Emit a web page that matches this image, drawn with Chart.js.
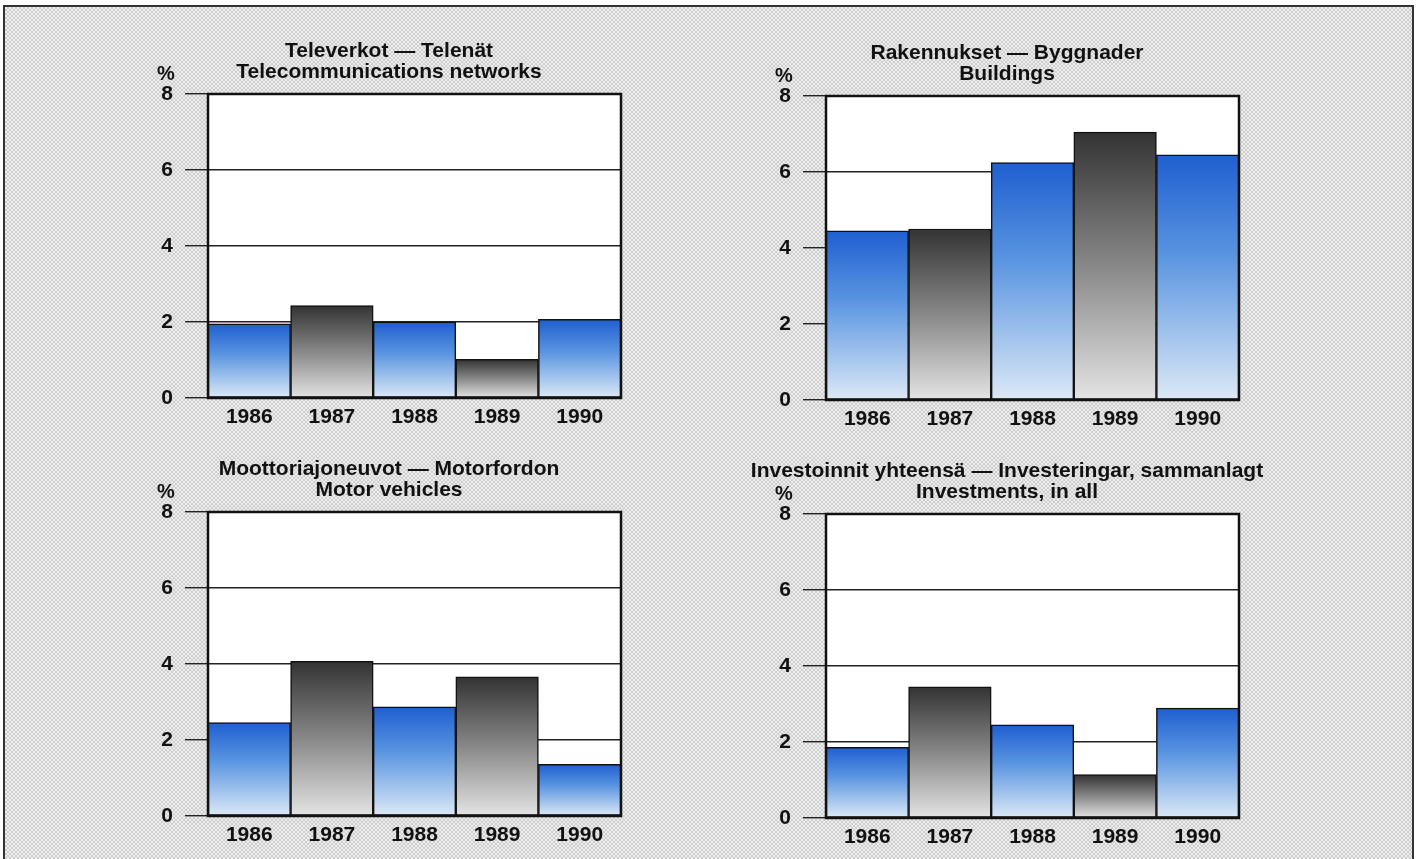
<!DOCTYPE html>
<html>
<head>
<meta charset="utf-8">
<script src="https://cdn.jsdelivr.net/npm/chart.js@4.4.1/dist/chart.umd.min.js"></script>
<style>
    body { margin: 0; background: #fff; width: 1417px; height: 859px; overflow: hidden; position: relative; }
    .frame {
        position: absolute; left: 3px; top: 5px; width: 1407px; height: 880px;
        border: 2px solid #333; border-bottom: none;
        background: repeating-conic-gradient(#cdcdcd 0 25%, #eeeeee 0 50%) 0 0 / 4px 4px;
    }
    canvas { position: absolute; }
</style>
</head>
<body>
<div class="frame"></div>
<canvas id="telecomChart" width="538" height="410" style="left:120px;top:30px"></canvas>
<canvas id="buildingsChart" width="538" height="410" style="left:738px;top:32px"></canvas>
<canvas id="vehiclesChart" width="538" height="410" style="left:120px;top:448px"></canvas>
<canvas id="totalChart" width="538" height="410" style="left:738px;top:450px"></canvas>
<script>
const years = ['1986', '1987', '1988', '1989', '1990'];

const telecomValues = [1.95, 2.43, 2.0, 1.02, 2.07];
const buildingsValues = [4.45, 4.5, 6.25, 7.05, 6.45];
const vehiclesValues = [2.46, 4.07, 2.87, 3.66, 1.36];
const totalValues = [1.86, 3.45, 2.45, 1.14, 2.89];

const telecomTitle = ['Televerkot — Telenät', 'Telecommunications networks'];
const buildingsTitle = ['Rakennukset — Byggnader', 'Buildings'];
const vehiclesTitle = ['Moottoriajoneuvot — Motorfordon', 'Motor vehicles'];
const totalTitle = ['Investoinnit yhteensä — Investeringar, sammanlagt', 'Investments, in all'];

const yMin = 0;
const yMax = 8;
const yStep = 2;

const FONT = '"Liberation Sans", Arial, Helvetica, sans-serif';

// blue / gray shading, darker at the top of each bar
function barFill(ctx) {
    const blue = ctx.dataIndex % 2 === 0;
    const chart = ctx.chart;
    const scale = chart.scales && chart.scales.y;
    if (!chart.chartArea || !scale || ctx.raw == null) {
        return blue ? '#4a86dc' : '#888';
    }
    const top = scale.getPixelForValue(ctx.raw);
    const base = scale.getPixelForValue(0);
    const g = chart.ctx.createLinearGradient(0, top, 0, base);
    if (blue) {
        g.addColorStop(0, '#1f5fd0');
        g.addColorStop(0.4, '#5893e0');
        g.addColorStop(1, '#dce9f6');
    } else {
        g.addColorStop(0, '#333');
        g.addColorStop(0.5, '#888');
        g.addColorStop(1, '#e4e4e4');
    }
    return g;
}

// white plot box, black frame, the two-line heading and the % mark
const panelDecor = {
    id: 'panelDecor',
    beforeDraw(chart) {
        const a = chart.chartArea;
        const c = chart.ctx;
        c.save();
        c.fillStyle = '#fff';
        c.fillRect(a.left, a.top, a.right - a.left, a.bottom - a.top);
        c.restore();
    },
    afterDatasetsDraw(chart, args, opts) {
        const a = chart.chartArea;
        const c = chart.ctx;
        c.save();
        c.strokeStyle = '#111';
        c.lineWidth = 2.5;
        c.strokeRect(a.left, a.top, a.right - a.left, a.bottom - a.top);
        c.fillStyle = '#111';
        c.textAlign = 'center';
        c.textBaseline = 'middle';
        c.font = 'bold 21px ' + FONT;
        const cx = a.left + 181;
        c.fillText(opts.lines[0], cx, a.top - 43);
        c.fillText(opts.lines[1], cx, a.top - 22);
        c.font = 'bold 20px ' + FONT;
        c.fillText('%', a.left - 42, a.top - 20);
        c.restore();
    }
};

function makeChart(id, title, values) {
    new Chart(document.getElementById(id), {
        type: 'bar',
        data: {
            labels: years,
            datasets: [{
                data: values,
                backgroundColor: barFill,
                borderColor: '#111',
                borderWidth: 1.5,
                borderSkipped: false,
                barPercentage: 1,
                categoryPercentage: 1
            }]
        },
        options: {
            responsive: false,
            animation: false,
            devicePixelRatio: 1,
            layout: { padding: { left: 0, right: 37, top: 64, bottom: 0 } },
            plugins: {
                legend: { display: false },
                tooltip: { enabled: false },
                title: { display: false },
                panelDecor: { lines: title }
            },
            scales: {
                x: {
                    grid: { display: false, drawTicks: false },
                    border: { display: false },
                    ticks: {
                        color: '#111',
                        padding: 7,
                        font: { family: FONT, size: 21, weight: 'bold' }
                    },
                    afterFit(scale) { scale.height = 42; }
                },
                y: {
                    min: yMin,
                    max: yMax,
                    border: { display: false },
                    grid: {
                        color: '#222',
                        lineWidth: 1.4,
                        drawTicks: true,
                        tickLength: 23
                    },
                    ticks: {
                        stepSize: yStep,
                        color: '#111',
                        padding: 12,
                        font: { family: FONT, size: 21, weight: 'bold' }
                    },
                    afterFit(scale) { scale.width = 88; }
                }
            }
        },
        plugins: [panelDecor]
    });
}

function initializeCharts() {
    makeChart('telecomChart', telecomTitle, telecomValues);
    makeChart('buildingsChart', buildingsTitle, buildingsValues);
    makeChart('vehiclesChart', vehiclesTitle, vehiclesValues);
    makeChart('totalChart', totalTitle, totalValues);
}

document.addEventListener('DOMContentLoaded', initializeCharts);
</script>
</body>
</html>
